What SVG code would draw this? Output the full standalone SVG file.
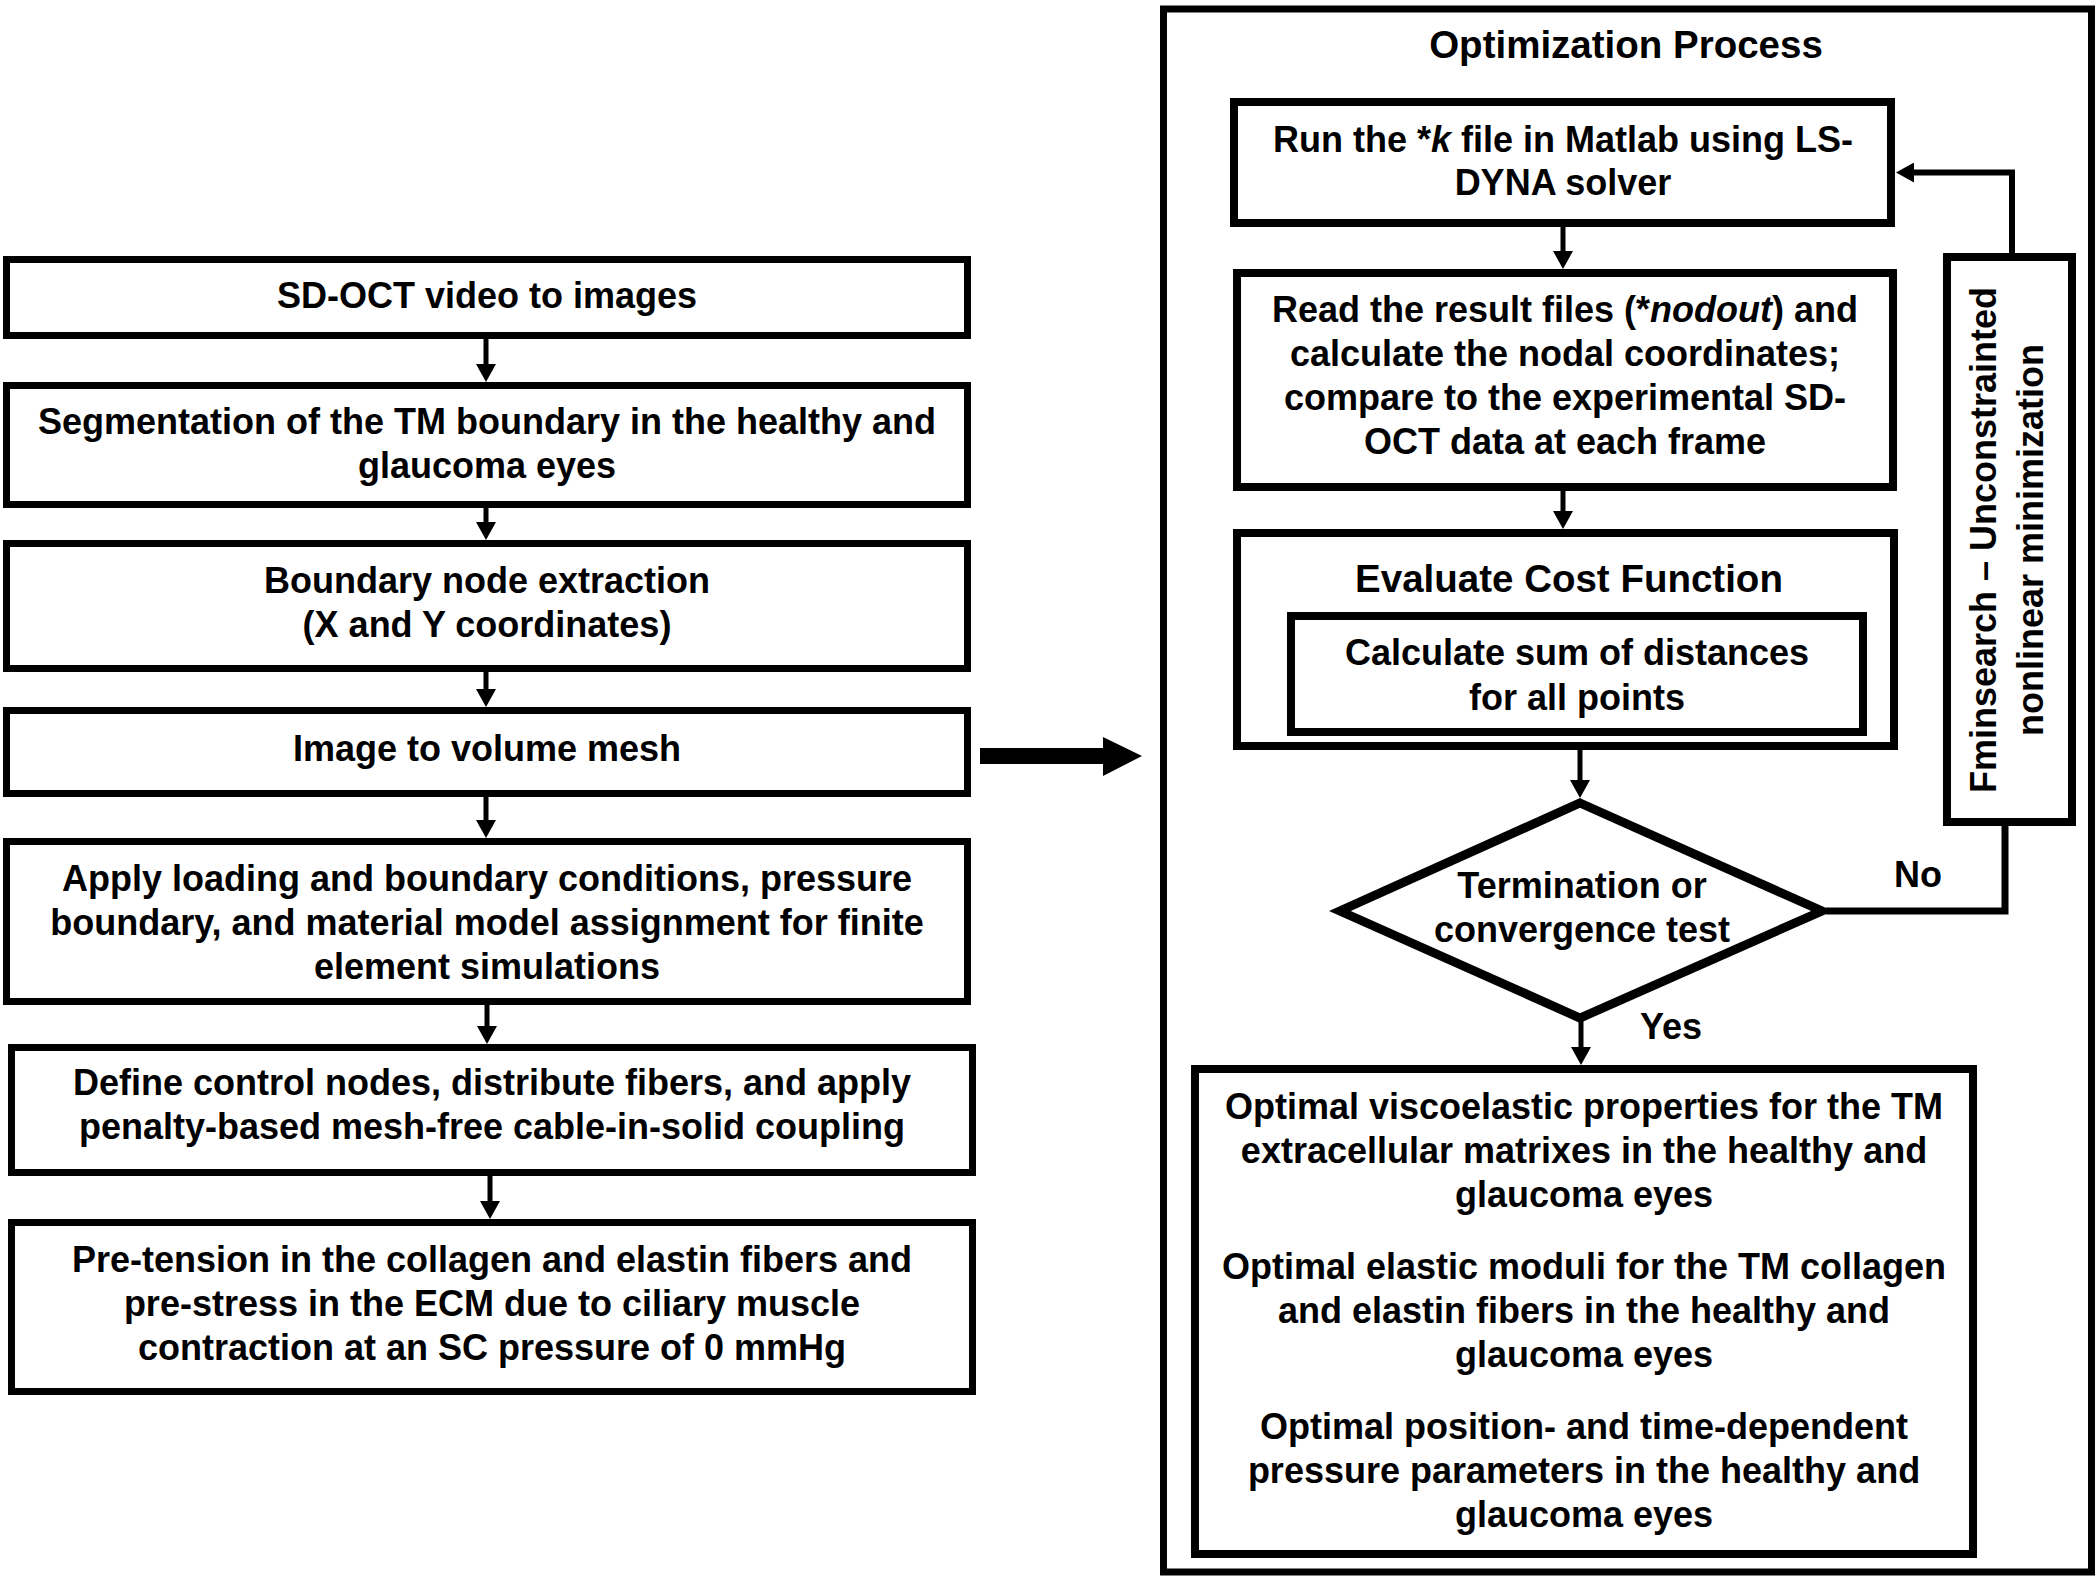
<svg xmlns="http://www.w3.org/2000/svg" width="2100" height="1581" viewBox="0 0 2100 1581">
<defs>
<style>
.box{fill:#fff;stroke:#000;stroke-width:7}
.rbox{fill:#fff;stroke:#000;stroke-width:8}
.frame{fill:none;stroke:#000;stroke-width:7}
.t{font-family:"Liberation Sans",Arial,sans-serif;font-weight:bold;font-size:36px;fill:#000;text-anchor:middle}
.h{font-size:38.5px}
.s{text-anchor:start}
.c{fill:none;stroke:#000;stroke-width:5}
.c2{fill:none;stroke:#000;stroke-width:7}
.i{font-style:italic}
</style>
<marker id="ah" viewBox="0 0 18 20" refX="4" refY="10" markerWidth="18" markerHeight="20" markerUnits="userSpaceOnUse" orient="auto">
<path d="M0,0 L18,10 L0,20 z" fill="#000"/>
</marker>
</defs>
<rect width="2100" height="1581" fill="#fff"/>

<g id="left-flow">
<g id="n1"><rect class="box" x="6.5" y="259.5" width="961" height="76"/>
<text class="t" x="487" y="308">SD-OCT video to images</text></g>
<g id="n2"><rect class="box" x="6.5" y="385.5" width="961" height="119"/>
<text class="t" x="487" y="434">Segmentation of the TM boundary in the healthy and</text>
<text class="t" x="487" y="478">glaucoma eyes</text></g>
<g id="n3"><rect class="box" x="6.5" y="543.5" width="961" height="125"/>
<text class="t" x="487" y="593">Boundary node extraction</text>
<text class="t" x="487" y="637">(X and Y coordinates)</text></g>
<g id="n4"><rect class="box" x="6.5" y="710.5" width="961" height="83"/>
<text class="t" x="487" y="761">Image to volume mesh</text></g>
<g id="n5"><rect class="box" x="6.5" y="841.5" width="961" height="160"/>
<text class="t" x="487" y="891">Apply loading and boundary conditions, pressure</text>
<text class="t" x="487" y="935">boundary, and material model assignment for finite</text>
<text class="t" x="487" y="979">element simulations</text></g>
<g id="n6"><rect class="box" x="11.5" y="1047.5" width="961" height="125"/>
<text class="t" x="492" y="1095">Define control nodes, distribute fibers, and apply</text>
<text class="t" x="492" y="1139">penalty-based mesh-free cable-in-solid coupling</text></g>
<g id="n7"><rect class="box" x="11.5" y="1222.5" width="961" height="169"/>
<text class="t" x="492" y="1272">Pre-tension in the collagen and elastin fibers and</text>
<text class="t" x="492" y="1316">pre-stress in the ECM due to ciliary muscle</text>
<text class="t" x="492" y="1360">contraction at an SC pressure of 0 mmHg</text></g>
</g>

<g id="optimization">
<rect class="frame" x="1163.5" y="9" width="928" height="1563"/>
<text class="t h" x="1626" y="58">Optimization Process</text>
<g id="r1"><rect class="rbox" x="1234" y="102" width="657" height="121"/>
<text class="t" x="1563" y="152">Run the *<tspan class="i">k</tspan> file in Matlab using LS-</text>
<text class="t" x="1563" y="195">DYNA solver</text></g>
<g id="r2"><rect class="rbox" x="1237" y="273" width="656" height="214"/>
<text class="t" x="1565" y="322">Read the result files (*<tspan class="i">nodout</tspan>) and</text>
<text class="t" x="1565" y="366">calculate the nodal coordinates;</text>
<text class="t" x="1565" y="410">compare to the experimental SD-</text>
<text class="t" x="1565" y="454">OCT data at each frame</text></g>
<g id="r3"><rect class="rbox" x="1237" y="533" width="657" height="213"/>
<text class="t h" x="1569" y="592">Evaluate Cost Function</text>
<g id="r3a"><rect class="rbox" x="1291" y="616" width="572" height="116"/>
<text class="t" x="1577" y="665">Calculate sum of distances</text>
<text class="t" x="1577" y="710">for all points</text></g></g>
<g id="r4"><polygon points="1580,803 1822,911 1580,1018 1340,911" fill="#fff" stroke="#000" stroke-width="9"/>
<text class="t" x="1582" y="898">Termination or</text>
<text class="t" x="1582" y="942">convergence test</text></g>
<g id="r5"><rect class="rbox" x="1947" y="257" width="125" height="565"/>
<g transform="translate(1996,540) rotate(-90)"><text class="t" x="0" y="0">Fminsearch – Unconstrainted</text></g>
<g transform="translate(2043,540) rotate(-90)"><text class="t" x="0" y="0">nonlinear minimization</text></g></g>
<g id="r6"><rect class="rbox" x="1195" y="1069" width="778" height="485"/>
<text class="t" x="1584" y="1119">Optimal viscoelastic properties for the TM</text>
<text class="t" x="1584" y="1163">extracellular matrixes in the healthy and</text>
<text class="t" x="1584" y="1207">glaucoma eyes</text>
<text class="t" x="1584" y="1279">Optimal elastic moduli for the TM collagen</text>
<text class="t" x="1584" y="1323">and elastin fibers in the healthy and</text>
<text class="t" x="1584" y="1367">glaucoma eyes</text>
<text class="t" x="1584" y="1439">Optimal position- and time-dependent</text>
<text class="t" x="1584" y="1483">pressure parameters in the healthy and</text>
<text class="t" x="1584" y="1527">glaucoma eyes</text></g>
</g>

<g id="connectors">
<line class="c" x1="486" y1="339" x2="486" y2="368" marker-end="url(#ah)"/>
<line class="c" x1="486" y1="508" x2="486" y2="526" marker-end="url(#ah)"/>
<line class="c" x1="486" y1="672" x2="486" y2="693" marker-end="url(#ah)"/>
<line class="c" x1="486" y1="797" x2="486" y2="824" marker-end="url(#ah)"/>
<line class="c" x1="487" y1="1005" x2="487" y2="1030" marker-end="url(#ah)"/>
<line class="c" x1="490" y1="1176" x2="490" y2="1205" marker-end="url(#ah)"/>
<polygon points="980,748 1103,748 1103,737 1142,756 1103,776 1103,764 980,764" fill="#000"/>
<line class="c" x1="1563" y1="227" x2="1563" y2="255" marker-end="url(#ah)"/>
<line class="c" x1="1563" y1="491" x2="1563" y2="515" marker-end="url(#ah)"/>
<line class="c" x1="1580" y1="750" x2="1580" y2="784" marker-end="url(#ah)"/>
<line class="c" x1="1581" y1="1020" x2="1581" y2="1051" marker-end="url(#ah)"/>
<polyline class="c2" points="1826,911 2005,911 2005,826"/>
<path d="M2012,253 V172.5 H1910" fill="none" stroke="#000" stroke-width="6" marker-end="url(#ah)"/>
<text class="t s" x="1640" y="1039">Yes</text>
<text class="t s" x="1894" y="887">No</text>
</g>
</svg>
